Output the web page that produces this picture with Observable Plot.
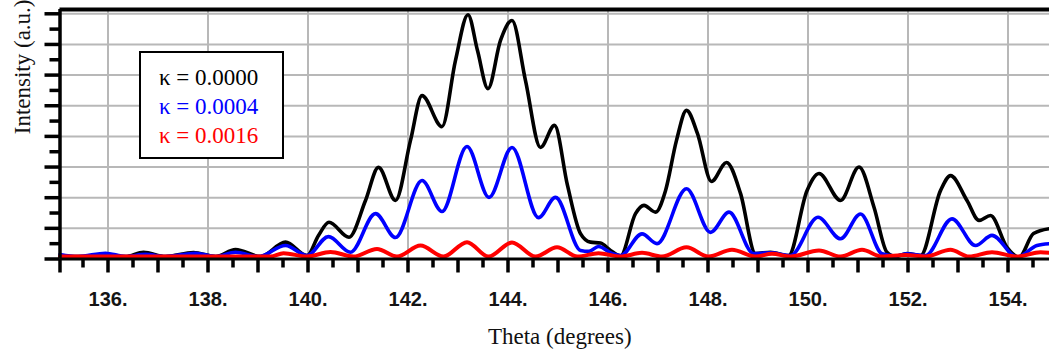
<!DOCTYPE html>
<html>
<head>
<meta charset="utf-8">
<script src="https://cdn.jsdelivr.net/npm/d3@7"></script>
<script src="https://cdn.jsdelivr.net/npm/@observablehq/plot@0.6"></script>
<style>
  html, body { margin: 0; padding: 0; background: #ffffff; }
  #chart svg { display: block; }
</style>
</head>
<body>
<div id="chart"></div>
<script>
// Diffraction profile near the high-angle peaks, for three values of kappa.
// Each point is [theta (degrees), intensity (a.u.)].
const kappa0000 = [
  [135.04, 0.08], [135.45, 0.08], [135.95, 0.10], [136.35, 0.08], [136.71, 0.22],
  [137.15, 0.08], [137.71, 0.21], [138.15, 0.08], [138.55, 0.31], [139.05, 0.08],
  [139.55, 0.55], [139.98, 0.11], [140.21, 0.77], [140.42, 1.20], [140.82, 0.71],
  [141.15, 1.91], [141.41, 2.99], [141.75, 1.91], [142.05, 3.87], [142.28, 5.33],
  [142.68, 4.32], [142.95, 6.48], [143.20, 7.97], [143.39, 6.80], [143.60, 5.56],
  [143.85, 7.13], [144.08, 7.78], [144.35, 5.82], [144.65, 3.64], [144.93, 4.36],
  [145.19, 2.40], [145.45, 0.83], [145.65, 0.55], [145.85, 0.52], [146.05, 0.28],
  [146.25, 0.10], [146.55, 1.48], [146.72, 1.75], [146.95, 1.53], [147.15, 2.23],
  [147.37, 3.87], [147.57, 4.85], [147.79, 4.09], [148.07, 2.53], [148.37, 3.15],
  [148.65, 2.14], [148.95, 0.18], [149.25, 0.22], [149.61, 0.11], [149.98, 2.23],
  [150.22, 2.79], [150.65, 1.91], [151.02, 3.00], [151.32, 1.69], [151.58, 0.22],
  [151.75, 0.08], [151.98, 0.18], [152.25, 0.11], [152.65, 2.23], [152.85, 2.72],
  [153.18, 1.91], [153.42, 1.26], [153.65, 1.42], [153.98, 0.38], [154.22, 0.06],
  [154.51, 0.83], [154.83, 0.99]
];
const kappa0004 = [
  [135.04, 0.15], [135.40, 0.08], [135.95, 0.19], [136.35, 0.08], [136.75, 0.15],
  [137.15, 0.08], [137.75, 0.19], [138.15, 0.08], [138.55, 0.22], [139.01, 0.08],
  [139.55, 0.44], [139.98, 0.11], [140.41, 0.73], [140.85, 0.22], [141.35, 1.48],
  [141.75, 0.70], [142.28, 2.56], [142.68, 1.55], [143.18, 3.67], [143.62, 2.01],
  [144.08, 3.64], [144.61, 1.35], [144.95, 2.01], [145.45, 0.28], [145.62, 0.25],
  [145.81, 0.41], [146.08, 0.18], [146.25, 0.11], [146.68, 0.82], [146.98, 0.50],
  [147.57, 2.29], [148.05, 0.87], [148.42, 1.53], [148.91, 0.18], [149.25, 0.20],
  [149.65, 0.11], [150.20, 1.36], [150.65, 0.66], [151.05, 1.47], [151.48, 0.17],
  [151.75, 0.10], [151.98, 0.17], [152.35, 0.11], [152.88, 1.31], [153.35, 0.44],
  [153.68, 0.77], [154.18, 0.06], [154.58, 0.44], [154.83, 0.50]
];
const kappa0016 = [
  [135.04, 0.08], [139.25, 0.08], [139.51, 0.19], [139.98, 0.08], [140.45, 0.23],
  [140.91, 0.08], [141.38, 0.33], [141.78, 0.08], [142.25, 0.44], [142.71, 0.08],
  [143.18, 0.55], [143.61, 0.08], [144.08, 0.54], [144.55, 0.08], [144.98, 0.38],
  [145.39, 0.08], [145.81, 0.19], [146.25, 0.08], [146.68, 0.20], [147.08, 0.08],
  [147.57, 0.38], [148.01, 0.08], [148.48, 0.30], [148.95, 0.08], [149.28, 0.17],
  [149.65, 0.08], [150.22, 0.28], [150.65, 0.08], [151.08, 0.30], [151.48, 0.08],
  [151.95, 0.13], [152.35, 0.08], [152.85, 0.30], [153.22, 0.08], [153.68, 0.22],
  [154.18, 0.08], [154.65, 0.22], [154.83, 0.20]
];

const seriesData = [kappa0000, kappa0004, kappa0016];
const seriesLabels = ["0.0000", "0.0004", "0.0016"];
const seriesColors = ["#000000", "#0000ff", "#ff0000"];

const thetaDomain = [135.04, 154.83];
const intensityDomain = [0, 8.14];
const thetaLabelTicks = d3.range(136, 155, 2);
const thetaMajorTicks = d3.range(136, 155, 1);
const thetaMinorTicks = d3.range(135.5, 155, 1);
const intensityMajorTicks = d3.range(0, 9, 1);
const intensityMinorTicks = d3.range(0.5, 8, 1);
const intensityGrid = d3.range(1, 9, 1);

const serif = "'Liberation Serif', 'Times New Roman', serif";
const sans = "'Liberation Sans', Arial, sans-serif";
const gridColor = "#b8b8b8";

const chart = Plot.plot({
  width: 1049,
  height: 352,
  marginLeft: 59.5,
  marginRight: 0,
  marginTop: 9,
  marginBottom: 93.5,
  style: { background: "#ffffff", overflow: "visible" },
  x: { domain: thetaDomain },
  y: { domain: intensityDomain },
  marks: [
    // light grid
    Plot.gridX(thetaLabelTicks, { stroke: gridColor, strokeOpacity: 1, strokeWidth: 2 }),
    Plot.gridY(intensityGrid, { stroke: gridColor, strokeOpacity: 1, strokeWidth: 2 }),

    // profiles, drawn so the largest kappa sits on top
    ...seriesData.map((pts, i) =>
      Plot.line(pts, {
        x: d => d[0],
        y: d => d[1],
        stroke: seriesColors[i],
        strokeWidth: i === 2 ? 4 : 3.6,
        curve: "monotone-x"
      })
    ),

    // frame: left edge, top edge and bottom axis line
    Plot.ruleX([thetaDomain[0]], { stroke: "black", strokeWidth: 3.5 }),
    Plot.ruleY([intensityDomain[1]], { stroke: "black", strokeWidth: 4 }),
    Plot.ruleY([0], { stroke: "black", strokeWidth: 3 }),

    // bottom ticks
    Plot.axisX([thetaDomain[0], ...thetaMajorTicks], { tickSize: 14, stroke: "black", strokeWidth: 3.5, fill: "none" }),
    Plot.axisX(thetaMinorTicks, { tickSize: 9, stroke: "black", strokeWidth: 3.5, fill: "none" }),
    Plot.axisX(thetaLabelTicks, {
      tickSize: 0,
      tickPadding: 33,
      tickFormat: d => `${d}.`,
      fontSize: 20,
      fontWeight: "bold",
      fontFamily: sans,
      fill: "#141414",
      label: null
    }),

    // left ticks
    Plot.axisY(intensityMajorTicks, { tickSize: 15, stroke: "black", strokeWidth: 3.5, fill: "none" }),
    Plot.axisY(intensityMinorTicks, { tickSize: 10, stroke: "black", strokeWidth: 3.5, fill: "none" }),

    // axis titles
    Plot.text(["Theta (degrees)"], {
      frameAnchor: "bottom",
      dx: 5,
      dy: 78,
      lineAnchor: "middle",
      fontFamily: serif,
      fontSize: 23,
      fill: "#111"
    }),
    Plot.text(["Intensity (a.u.)"], {
      frameAnchor: "left",
      dx: -37.5,
      rotate: -90,
      lineAnchor: "middle",
      fontFamily: serif,
      fontSize: 23,
      fill: "#111"
    })
  ]
});

document.getElementById("chart").appendChild(chart);

// legend box inside the plot area
const svg = d3.select(chart);
const legend = svg.append("g").attr("class", "legend");
legend.append("rect")
  .attr("x", 140).attr("y", 52)
  .attr("width", 143).attr("height", 106)
  .attr("fill", "#ffffff")
  .attr("stroke", "#000000")
  .attr("stroke-width", 2);
seriesLabels.forEach((lab, i) => {
  legend.append("text")
    .attr("x", 159)
    .attr("y", 85 + i * 29)
    .attr("text-anchor", "start")
    .attr("fill", seriesColors[i])
    .style("font-family", serif)
    .style("font-size", "23px")
    .text(`\u03BA = ${lab}`);
});
</script>
</body>
</html>
